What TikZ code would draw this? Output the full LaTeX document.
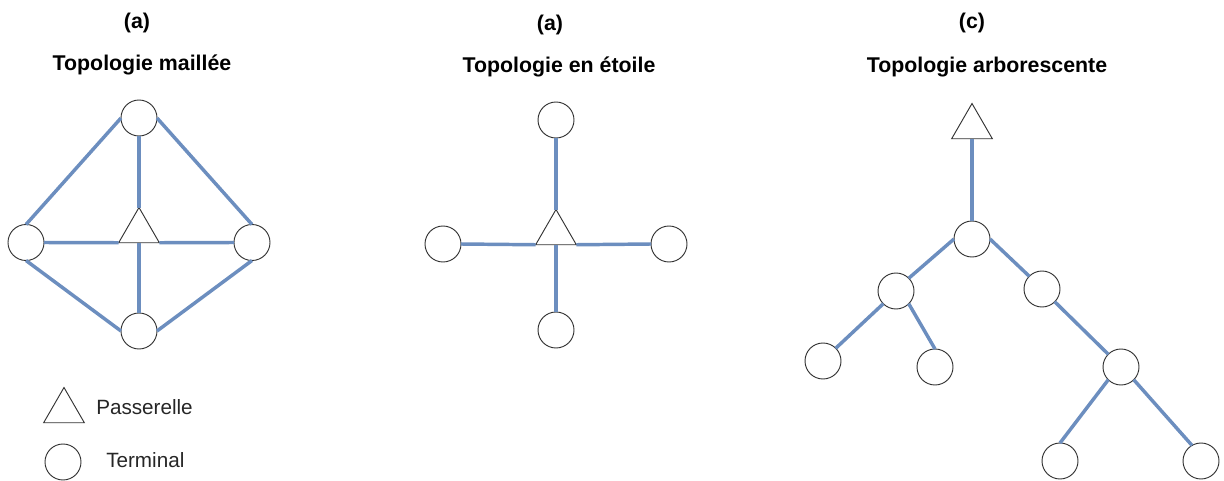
\documentclass[tikz,border=0pt]{standalone}
\usepackage{fontspec}
\setmainfont{Liberation Sans}
\usetikzlibrary{shapes.geometric}
\definecolor{linkblue}{HTML}{6C8EBF}
\definecolor{shapegray}{HTML}{333333}
\tikzset{
  term/.style={circle, draw=shapegray, fill=white, line width=0.7pt, minimum size=27pt, inner sep=0pt, outer sep=0pt},
  gate/.style={regular polygon, regular polygon sides=3, draw=shapegray, fill=white, line width=0.7pt, minimum size=35.25pt, inner sep=0pt, outer sep=0pt},
  link/.style={draw=linkblue, line width=2.6pt},
  ttl/.style={anchor=base, inner sep=0pt, font=\fontsize{16}{19}\selectfont\bfseries},
  lgd/.style={anchor=base west, inner sep=0pt, font=\fontsize{15.5}{18}\selectfont, text=black!85}
}
\begin{document}
\begin{tikzpicture}[x=0.75pt, y=-0.75pt]
\useasboundingbox (0,0) rectangle (1224,481);
% titles
\node[ttl] (ta) at (137,29) {(a)};
\node[ttl] (tma) at (142,71) {Topologie maillée};
\node[ttl] (tb) at (550,31) {(a)};
\node[ttl] (tst) at (559,73) {Topologie en étoile};
\node[ttl] (tc) at (972,29) {(c)};
\node[ttl] (ttr) at (987,73) {Topologie arborescente};

% mesh topology
\node[term] (mT) at (139,118) {};
\node[term] (mL) at (26,242.5) {};
\node[term] (mR) at (252,242.5) {};
\node[term] (mB) at (139,331) {};
\node[gate] (mG) at (139,231) {};
\draw[link] (mT.west) -- (mL.north);
\draw[link] (mT.east) -- (mR.north);
\draw[link] (mL.south) -- (mB.west);
\draw[link] (mB.east) -- (mR.south);
\draw[link] (mT.south) -- (mG.corner 1);
\draw[link] (mG.side 2) -- (mB.north);
\draw[link] (mL.east) -- (mG.corner 2);
\draw[link] (mG.corner 3) -- (mR.west);

% star topology
\node[term] (sT) at (556,120) {};
\node[term] (sL) at (443,244) {};
\node[term] (sR) at (669,244) {};
\node[term] (sB) at (556,330) {};
\node[gate] (sG) at (556,233) {};
\draw[link] (sT.south) -- (sG.corner 1);
\draw[link] (sL.east) -- (sG.corner 2);
\draw[link] (sG.corner 3) -- (sR.west);
\draw[link] (sG.side 2) -- (sB.north);

% tree topology
\node[gate] (tG) at (972,127) {};
\node[term] (t0) at (972,239) {};
\node[term] (t1) at (896,291) {};
\node[term] (t2) at (1042,289) {};
\node[term] (t11) at (823,361) {};
\node[term] (t12) at (935,367) {};
\node[term] (t21) at (1121,367) {};
\node[term] (t211) at (1060,461) {};
\node[term] (t212) at (1201,461) {};
\draw[link] (tG.side 2) -- (t0.north);
\draw[link] (t0.west) -- (t1.north east);
\draw[link] (t0.east) -- (t2.north west);
\draw[link] (t1.south west) -- (t11.north east);
\draw[link] (t1.south east) -- (t12.north);
\draw[link] (t2.south east) -- (t21.north west);
\draw[link] (t21.south west) -- (t211.north);
\draw[link] (t21.south east) -- (t212.120);

% legend
\node[gate] (lG) at (64,411) {};
\node[lgd] (lGt) at (96,414) {Passerelle};
\node[term] (lT) at (63,462) {};
\node[lgd] (lTt) at (106,467) {Terminal};
\end{tikzpicture}
\end{document}
